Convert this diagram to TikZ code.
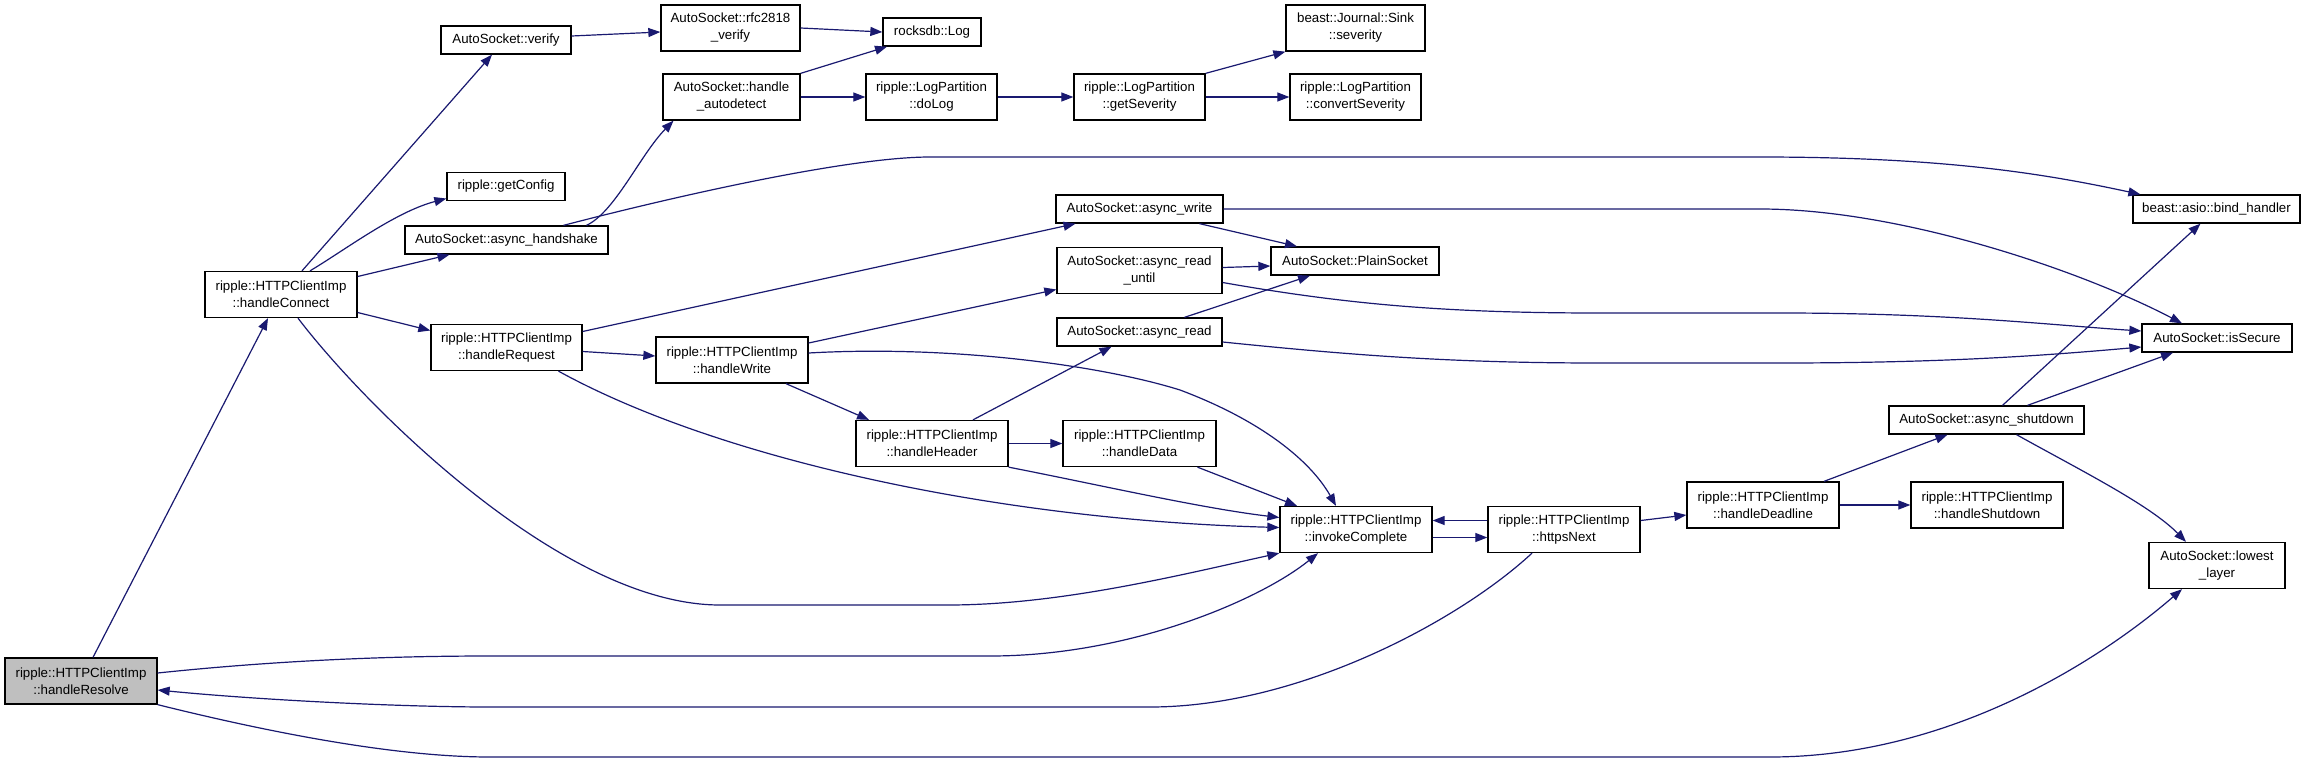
\documentclass[tikz,border=0pt]{standalone}
\usepackage{fontspec}
\setmainfont{Liberation Sans}
\usetikzlibrary{arrows.meta}
\definecolor{edgeblue}{HTML}{191970}
\definecolor{rootgray}{HTML}{BFBFBF}

\begin{document}
\begin{tikzpicture}[
    x=1pt, y=-1pt,
    fn/.style={draw=black, line width=1.3pt, fill=white, inner sep=0pt, align=center,
      font=\fontsize{13.3}{17}\selectfont, minimum height=28pt},
    fn2/.style={fn, minimum height=46pt},
    call/.style={-{Triangle[length=12pt, width=9pt]}, draw=edgeblue, fill=none, line width=1.2pt},
  ]
  \useasboundingbox[fill=white] (0,0) rectangle (2307,763);

  % ---- caller ----
  \node[fn2, fill=rootgray, minimum width=152pt] (resolve) at (81,681) {ripple::HTTPClientImp\\::handleResolve};

  % ---- first level ----
  \node[fn2, minimum width=152pt] (connect) at (281,294.5) {ripple::HTTPClientImp\\::handleConnect};

  % ---- column 3 ----
  \node[fn, minimum width=130pt] (verify) at (506,40) {AutoSocket::verify};
  \node[fn, minimum width=118pt] (config) at (506,186.5) {ripple::getConfig};
  \node[fn, minimum width=203pt] (handshake) at (506.5,240) {AutoSocket::async\_handshake};
  \node[fn2, minimum width=151pt] (request) at (506.5,347.5) {ripple::HTTPClientImp\\::handleRequest};

  % ---- column 4 ----
  \node[fn2, minimum width=139pt] (rfc) at (730.5,28) {AutoSocket::rfc2818\\\_verify};
  \node[fn2, minimum width=137pt] (detect) at (731.5,97) {AutoSocket::handle\\\_autodetect};
  \node[fn2, minimum width=152pt] (write) at (732,360) {ripple::HTTPClientImp\\::handleWrite};

  % ---- column 5 ----
  \node[fn, minimum width=98pt] (log) at (932,32) {rocksdb::Log};
  \node[fn2, minimum width=131pt] (dolog) at (931.5,97) {ripple::LogPartition\\::doLog};
  \node[fn2, minimum width=152pt] (header) at (932,443.5) {ripple::HTTPClientImp\\::handleHeader};

  % ---- column 6 ----
  \node[fn2, minimum width=131pt] (getsev) at (1139.5,97) {ripple::LogPartition\\::getSeverity};
  \node[fn, minimum width=167pt] (awrite) at (1139.5,209) {AutoSocket::async\_write};
  \node[fn2, minimum width=165pt] (auntil) at (1139.5,270.5) {AutoSocket::async\_read\\\_until};
  \node[fn, minimum width=165pt] (aread) at (1139.5,332) {AutoSocket::async\_read};
  \node[fn2, minimum width=153pt] (data) at (1139.5,443.5) {ripple::HTTPClientImp\\::handleData};

  % ---- column 7 ----
  \node[fn2, minimum width=139pt] (sinksev) at (1355.5,28) {beast::Journal::Sink\\::severity};
  \node[fn2, minimum width=131pt] (convsev) at (1355.5,97) {ripple::LogPartition\\::convertSeverity};
  \node[fn, minimum width=168pt] (plain) at (1355,261) {AutoSocket::PlainSocket};
  \node[fn2, minimum width=152pt] (invoke) at (1356,529.5) {ripple::HTTPClientImp\\::invokeComplete};

  % ---- columns 8-9 ----
  \node[fn2, minimum width=152pt] (next) at (1564,529.5) {ripple::HTTPClientImp\\::httpsNext};
  \node[fn2, minimum width=152pt] (deadline) at (1763,505) {ripple::HTTPClientImp\\::handleDeadline};

  % ---- columns 10-11 ----
  \node[fn, minimum width=195pt] (ashut) at (1986.5,420) {AutoSocket::async\_shutdown};
  \node[fn2, minimum width=152pt] (shutdown) at (1987,505) {ripple::HTTPClientImp\\::handleShutdown};
  \node[fn, minimum width=167pt] (bind) at (2216.5,209) {beast::asio::bind\_handler};
  \node[fn, minimum width=150pt] (secure) at (2217,338) {AutoSocket::isSecure};
  \node[fn2, minimum width=136pt] (lowest) at (2217,565.5) {AutoSocket::lowest\\\_layer};

  % ---- calls from handleResolve ----
  \draw[call] ([xshift=12pt]resolve.north) -- ([xshift=-13pt]connect.south);
  \draw[call] ([yshift=8pt]resolve.east) .. controls (300,658) and (420,656) .. (490,656)
    -- (990,656) .. controls (1130,656) and (1260,600) .. ([xshift=-38pt]invoke.south);
  \draw[call] (resolve.south east) .. controls (280,735) and (400,757) .. (490,757)
    -- (1770,757) .. controls (1950,757) and (2100,660) .. ([xshift=-35pt]lowest.south);
  \draw[call] ([xshift=-32pt]next.south) .. controls (1460,620) and (1300,707) .. (1150,707)
    -- (490,707) .. controls (400,707) and (260,700) .. ([yshift=-9pt]resolve.east);

  % ---- handleConnect ----
  \draw[call] ([xshift=21pt]connect.north) -- ([xshift=-14pt]verify.south);
  \draw[call] ([xshift=29pt]connect.north) .. controls (345,250) and (395,212) .. ([yshift=-12pt]config.west);
  \draw[call] ([yshift=18pt]connect.east) -- ([xshift=-57pt]handshake.south);
  \draw[call] ([yshift=-18pt]connect.east) -- ([yshift=17pt]request.west);
  \draw[call] ([xshift=17pt]connect.south) .. controls (360,400) and (560,605) .. (720,605)
    -- (948,605) .. controls (1060,605) and (1180,575) .. (invoke.south west);

  % ---- column 3 ----
  \draw[call] ([yshift=4pt]verify.east) -- ([yshift=-4pt]rfc.west);
  \draw[call] ([xshift=80pt]handshake.north) .. controls (615,212) and (640,155) .. ([xshift=-58pt]detect.south);
  \draw[call] ([xshift=57pt]handshake.north) .. controls (680,195) and (850,157) .. (930,157)
    -- (1760,157) .. controls (1950,157) and (2050,175) .. ([xshift=8pt]bind.north west);
  \draw[call] ([yshift=16pt]request.east) -- ([xshift=-64pt]awrite.south);
  \draw[call] ([yshift=-4pt]request.east) -- ([yshift=4pt]write.west);
  \draw[call] ([xshift=52pt]request.south) .. controls (720,460) and (1000,520) .. ([yshift=2pt]invoke.west);

  % ---- column 4 ----
  \draw[call] (rfc.east) -- (log.west);
  \draw[call] (detect.north east) -- ([xshift=-45pt]log.south);
  \draw[call] (detect.east) -- (dolog.west);
  \draw[call] ([yshift=17pt]write.east) -- ([yshift=-19pt]auntil.west);
  \draw[call] ([xshift=54pt]write.south) -- ([xshift=-63pt]header.north);
  \draw[call] ([yshift=7pt]write.east) .. controls (950,345) and (1100,365) .. (1180,390)
    .. controls (1260,420) and (1310,460) .. ([xshift=-20pt]invoke.north);

  % ---- column 5 ----
  \draw[call] (dolog.east) -- (getsev.west);
  \draw[call] ([xshift=41pt]header.north) -- ([xshift=-28pt]aread.south);
  \draw[call] (header.east) -- (data.west);
  \draw[call] (header.south east) .. controls (1100,485) and (1200,508) .. ([yshift=12pt]invoke.west);

  % ---- column 6 ----
  \draw[call] (getsev.north east) -- (sinksev.south west);
  \draw[call] (getsev.east) -- (convsev.west);
  \draw[call] ([xshift=60pt]awrite.south) -- ([xshift=-58pt]plain.north);
  \draw[call] (awrite.east) -- (1760,209) .. controls (1900,209) and (2080,270) .. ([xshift=-35pt]secure.north);
  \draw[call] ([yshift=3pt]auntil.east) -- ([yshift=-5pt]plain.west);
  \draw[call] ([yshift=-12pt]auntil.east) .. controls (1350,305) and (1450,313) .. (1600,313)
    -- (1780,313) .. controls (1950,313) and (2050,325) .. ([yshift=7pt]secure.west);
  \draw[call] ([xshift=45pt]aread.north) -- ([xshift=-45pt]plain.south);
  \draw[call] ([yshift=-10pt]aread.east) .. controls (1350,355) and (1450,363) .. (1600,363)
    -- (1780,363) .. controls (1950,363) and (2050,355) .. ([yshift=-9pt]secure.west);
  \draw[call] ([xshift=58pt]data.south) -- ([xshift=-59pt]invoke.north);

  % ---- invokeComplete / httpsNext ----
  \draw[call] ([yshift=-8pt]invoke.east) -- ([yshift=-8pt]next.west);
  \draw[call] ([yshift=9pt]next.west) -- ([yshift=9pt]invoke.east);
  \draw[call] ([yshift=9pt]next.east) -- ([yshift=-10pt]deadline.west);

  % ---- handleDeadline / async_shutdown ----
  \draw[call] ([xshift=61pt]deadline.north) -- ([xshift=-39pt]ashut.south);
  \draw[call] (deadline.east) -- (shutdown.west);
  \draw[call] ([xshift=16pt]ashut.north) -- ([xshift=-16pt]bind.south);
  \draw[call] ([xshift=41pt]ashut.north) -- ([xshift=-44pt]secure.south);
  \draw[call] ([xshift=30pt]ashut.south) .. controls (2080,470) and (2150,505) .. ([xshift=-31pt]lowest.north);

\end{tikzpicture}
\end{document}
